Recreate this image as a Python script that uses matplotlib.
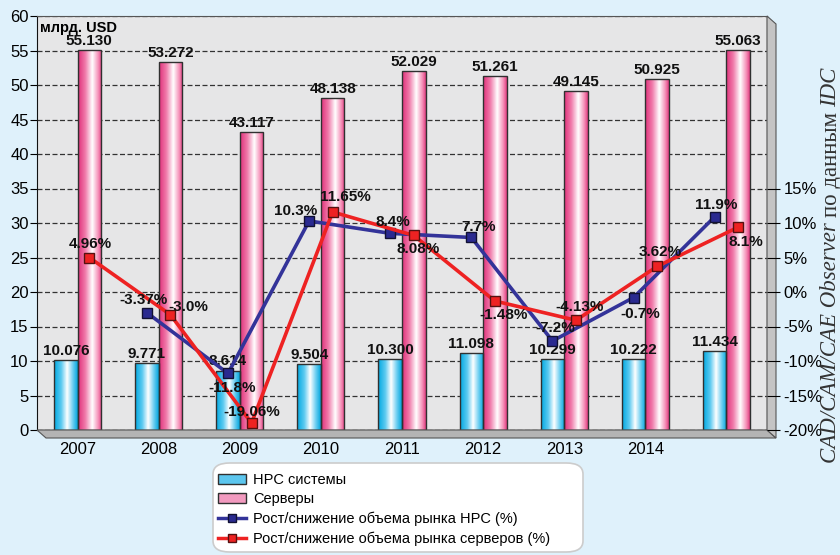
import matplotlib
matplotlib.use("Agg")
import matplotlib.pyplot as plt
import numpy as np
from matplotlib.colors import LinearSegmentedColormap
from matplotlib.patches import Polygon, Patch, FancyBboxPatch
from matplotlib.lines import Line2D

plt.rcParams["font.family"] = ["Liberation Sans", "DejaVu Sans"]

# --- data -------------------------------------------------------------
years = [2007, 2008, 2009, 2010, 2011, 2012, 2013, 2014, 2015]
tick_years = ["2007", "2008", "2009", "2010", "2011", "2012", "2013", "2014", ""]
hpc = [10.076, 9.771, 8.614, 9.504, 10.300, 11.098, 10.299, 10.222, 11.434]
servers = [55.130, 53.272, 43.117, 48.138, 52.029, 51.261, 49.145, 50.925, 55.063]

# growth rates (%) as drawn
hpc_growth = [np.nan, -3.0, -11.8, 10.3, 8.5, 7.9, -7.1, -0.8, 10.9]
srv_growth = [5.0, -3.3, -19.0, 11.6, 8.2, -1.3, -4.1, 3.7, 9.4]
hpc_growth_lbl = ["", "-3.37%", "-11.8%", "10.3%", "8.4%", "7.7%", "-7.2%", "-0.7%", "11.9%"]
srv_growth_lbl = ["4.96%", "-3.0%", "-19.06%", "11.65%", "8.08%", "-1.48%", "-4.13%", "3.62%", "8.1%"]

# label offsets in pixels (style only)
hpc_off = [(0, 0), (-3, 13), (4, -15), (-14, 10), (3, 11), (7, 10), (3, 13), (7, -16), (2, 12)]
srv_off = [(1, 13), (18, 8), (0, 11), (13, 15), (4, -14), (9, -14), (4, 13), (3, 14), (8, -15)]

BG = "#dff1fb"
cyan_cmap = LinearSegmentedColormap.from_list(
    "cy", [(0, "#00a8e2"), (0.3, "#5ccaf0"), (0.55, "#ffffff"), (0.8, "#66ccf0"), (1, "#00a4dc")])
pink_cmap = LinearSegmentedColormap.from_list(
    "pk", [(0, "#e0307a"), (0.3, "#f07aaa"), (0.6, "#ffffff"), (0.85, "#f590b8"), (1, "#e03c80")])

fig = plt.figure(figsize=(8.4, 5.55), dpi=100, facecolor=BG)
ax = fig.add_axes([37 / 840, 125 / 555, 730 / 840, 414 / 555])
ax.set_facecolor("#e6e6e7")

x = np.arange(len(years))
w = 0.29
grad = np.linspace(0, 1, 128).reshape(1, -1)


def gradient_bars(bars, cmap):
    for b in bars:
        x0, bw, h = b.get_x(), b.get_width(), b.get_height()
        im = ax.imshow(grad, extent=(x0, x0 + bw, 0, h), cmap=cmap,
                       aspect="auto", zorder=2, interpolation="bilinear")
        im.set_clip_path(b)


b1 = ax.bar(x - w / 2, hpc, width=w, facecolor="none", edgecolor="#303030",
            linewidth=1, zorder=3)
b2 = ax.bar(x + w / 2, servers, width=w, facecolor="none", edgecolor="#303030",
            linewidth=1, zorder=3)
gradient_bars(b1, cyan_cmap)
gradient_bars(b2, pink_cmap)

for xi, v in zip(x - w / 2, hpc):
    ax.text(xi, v + 0.3, f"{v:.3f}", ha="center", va="bottom", fontsize=11,
            fontweight="bold", color="#111", zorder=4)
for xi, v in zip(x + w / 2, servers):
    ax.text(xi, v + 0.3, f"{v:.3f}", ha="center", va="bottom", fontsize=11,
            fontweight="bold", color="#111", zorder=4)

ax.set_xlim(-0.5, len(years) - 0.5)
ax.set_ylim(0, 60)
ax.set_yticks(range(0, 61, 5))
ax.tick_params(axis="y", labelsize=12, length=5, direction="out", pad=1)
ax.set_xticks(x)
ax.set_xticklabels(tick_years, fontsize=12)
ax.tick_params(axis="x", length=0, pad=9)
ax.grid(True, axis="y", color="#333333", linestyle=(0, (4, 2)), linewidth=0.9)
ax.set_axisbelow(True)
for s in ["top", "right"]:
    ax.spines[s].set_color("#555555")
ax.spines["left"].set_color("#111111")
ax.spines["bottom"].set_color("#111111")
ax.text(0.004, 0.988, "млрд. USD", transform=ax.transAxes, fontsize=10.5,
        fontweight="bold", ha="left", va="top")

# pseudo-3d floor and wall
dx, dy = 9 / 730, 8 / 414
floor = Polygon([(0, 0), (1, 0), (1 + dx, -dy), (dx, -dy)], closed=True,
                transform=ax.transAxes, facecolor="#b4b4b4", edgecolor="#555555",
                linewidth=0.8, clip_on=False, zorder=5)
wall = Polygon([(1, 1), (1 + dx, 1 - dy), (1 + dx, -dy), (1, 0)], closed=True,
               transform=ax.transAxes, facecolor="#c4c4c4", edgecolor="#555555",
               linewidth=0.8, clip_on=False, zorder=5)
ax.add_patch(floor)
ax.add_patch(wall)

# percent axis
ax2 = ax.twinx()
ax2.set_ylim(-20, 40)
ax2.set_yticks(range(-20, 16, 5))
ax2.set_yticklabels([f"{t}%" for t in range(-20, 16, 5)])
ax2.tick_params(axis="y", labelsize=12, length=9, direction="out", pad=3)
for s in ax2.spines.values():
    s.set_visible(False)

ax2.plot(x - w / 2, hpc_growth, color="#333399", linewidth=2.6, marker="s",
         markersize=7.5, markerfacecolor="#2a2a90", markeredgecolor="#111133",
         zorder=6)
ax2.plot(x + w / 2, srv_growth, color="#ee2222", linewidth=2.6, marker="s",
         markersize=7.5, markerfacecolor="#ee2222", markeredgecolor="#551111",
         zorder=7)

for xi, v, lbl, (ox, oy) in zip(x - w / 2, hpc_growth, hpc_growth_lbl, hpc_off):
    if lbl:
        ax2.annotate(lbl, (xi, v), xytext=(ox * 0.72, oy * 0.72),
                     textcoords="offset points", ha="center", va="center",
                     fontsize=11, fontweight="bold", color="#111", zorder=8)
for xi, v, lbl, (ox, oy) in zip(x + w / 2, srv_growth, srv_growth_lbl, srv_off):
    ax2.annotate(lbl, (xi, v), xytext=(ox * 0.72, oy * 0.72),
                 textcoords="offset points", ha="center", va="center",
                 fontsize=11, fontweight="bold", color="#111", zorder=8)

# legend
box = FancyBboxPatch((213 / 840, 1 - 552 / 555), 370 / 840, 89 / 555,
                     boxstyle="round,pad=0,rounding_size=0.02",
                     transform=fig.transFigure, facecolor="white",
                     edgecolor="#cccccc", linewidth=1.2, zorder=0)
fig.patches.append(box)
handles = [
    Patch(facecolor="#5cc6ee", edgecolor="#303030"),
    Patch(facecolor="#f29abf", edgecolor="#303030"),
    Line2D([], [], color="#333399", linewidth=2.5, marker="s", markersize=6,
           markerfacecolor="#2a2a90", markeredgecolor="#111133"),
    Line2D([], [], color="#ee2222", linewidth=2.5, marker="s", markersize=6,
           markerfacecolor="#ee2222", markeredgecolor="#551111"),
]
labels = ["HPC системы", "Серверы", "Рост/снижение объема рынка HPC (%)",
          "Рост/снижение объема рынка серверов (%)"]
fig.legend(handles, labels, loc="upper left",
           bbox_to_anchor=(208 / 840, 1 - 463 / 555), frameon=False,
           fontsize=10.5, handlelength=1.9, handletextpad=0.5,
           labelspacing=0.36, borderpad=0.2)

# rotated source note
fig.canvas.draw()
r = fig.canvas.get_renderer()
xs = 831 / 840
kw = dict(rotation=90, ha="center", va="bottom", fontsize=16.5,
          family="Liberation Serif", color="#333333")
t = fig.text(xs, 1 - 463 / 555, "CAD/CAM/CAE Observer", style="italic", **kw)
bb = t.get_window_extent(r)
t2 = fig.text(xs, (bb.y1 + 5) / 555, "по данным", **kw)
bb2 = t2.get_window_extent(r)
fig.text(xs, (bb2.y1 + 5) / 555, "IDC", style="italic", **kw)

fig.savefig("out.png", dpi=100, facecolor=BG)
